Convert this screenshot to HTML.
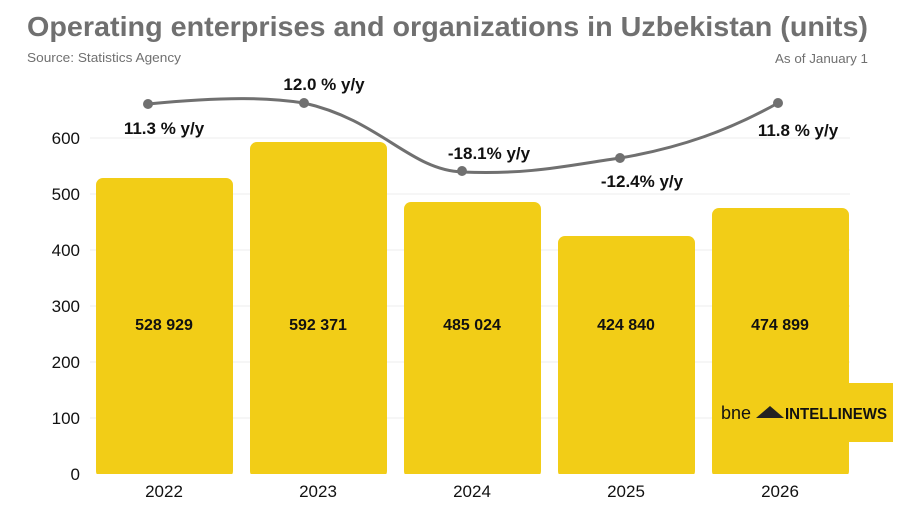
<!DOCTYPE html>
<html><head><meta charset="utf-8"><style>
html,body{margin:0;padding:0;background:#fff;}
svg{display:block;font-family:"Liberation Sans",sans-serif;}
</style></head><body>
<svg width="900" height="510" viewBox="0 0 900 510" xmlns="http://www.w3.org/2000/svg">
<rect width="900" height="510" fill="#fff"/>
<text x="27" y="36" font-size="28" font-weight="bold" fill="#707070" textLength="841" lengthAdjust="spacingAndGlyphs">Operating enterprises and organizations in Uzbekistan (units)</text>
<text x="27" y="62" font-size="13" fill="#707070" textLength="154" lengthAdjust="spacingAndGlyphs">Source: Statistics Agency</text>
<text x="868" y="63" font-size="13" fill="#707070" text-anchor="end" textLength="93" lengthAdjust="spacingAndGlyphs">As of January 1</text>
<g stroke="#eeeeee" stroke-width="1">
<line x1="90" x2="850" y1="418" y2="418"/><line x1="90" x2="850" y1="362" y2="362"/>
<line x1="90" x2="850" y1="306" y2="306"/><line x1="90" x2="850" y1="250" y2="250"/>
<line x1="90" x2="850" y1="194" y2="194"/><line x1="90" x2="850" y1="138" y2="138"/>
</g>
<g fill="#f2cd17">
<rect x="96" y="178" width="137" height="300" rx="7"/>
<rect x="250" y="142" width="137" height="336" rx="7"/>
<rect x="404" y="202" width="137" height="276" rx="7"/>
<rect x="558" y="236" width="137" height="242" rx="7"/>
<rect x="712" y="208" width="137" height="270" rx="7"/>
<rect x="712" y="383" width="181" height="59"/>
</g>
<rect x="0" y="474" width="900" height="36" fill="#fff"/>
<g font-size="17" fill="#111" text-anchor="end">
<text x="80" y="480">0</text><text x="80" y="424">100</text><text x="80" y="368">200</text>
<text x="80" y="312">300</text><text x="80" y="256">400</text><text x="80" y="200">500</text><text x="80" y="144">600</text>
</g>
<g font-size="16" font-weight="bold" fill="#111" text-anchor="middle">
<text x="164" y="330">528 929</text><text x="318" y="330">592 371</text><text x="472" y="330">485 024</text>
<text x="626" y="330">424 840</text><text x="780" y="330">474 899</text>
</g>
<g font-size="17" fill="#111" text-anchor="middle">
<text x="164" y="497">2022</text><text x="318" y="497">2023</text><text x="472" y="497">2024</text>
<text x="626" y="497">2025</text><text x="780" y="497">2026</text>
</g>
<path d="M148,104 C230,96 270,98 304,103 C380,120 410,170 462,172 C530,175 570,165 620,158 C680,148 730,130 778,103" fill="none" stroke="#707070" stroke-width="3"/>
<g fill="#707070">
<circle cx="148" cy="104" r="5"/><circle cx="304" cy="103" r="5"/><circle cx="462" cy="171" r="5"/>
<circle cx="620" cy="158" r="5"/><circle cx="778" cy="103" r="5"/>
</g>
<g font-size="17" font-weight="bold" fill="#111" text-anchor="middle">
<text x="164" y="134">11.3 % y/y</text><text x="324" y="90">12.0 % y/y</text>
<text x="489" y="159">-18.1% y/y</text><text x="642" y="187">-12.4% y/y</text>
<text x="798" y="136">11.8 % y/y</text>
</g>
<text x="721" y="419" font-size="18" fill="#111">bne</text>
<g fill="#222"><polygon points="756,418 770,406 784,418"/></g>
<text x="785" y="419" font-size="16" font-weight="bold" fill="#111" textLength="102" lengthAdjust="spacingAndGlyphs">INTELLINEWS</text>
</svg>
</body></html>
